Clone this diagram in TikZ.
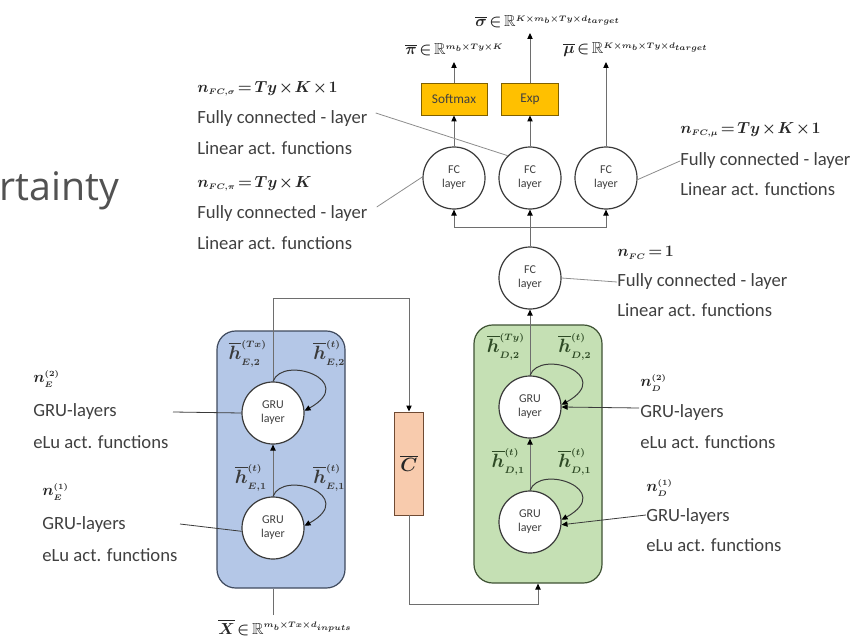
\documentclass[tikz,border=0pt]{standalone}
\usepackage{amsmath,amssymb}
\usepackage{fontspec}
\setmainfont{Carlito}
\newfontfamily\titlefont{Open Sans}
\usetikzlibrary{arrows.meta,calc}
\definecolor{txt}{HTML}{404040}
\definecolor{mtxt}{HTML}{262626}
\definecolor{circb}{HTML}{3A3A3A}
\definecolor{conn}{HTML}{6E6E6E}
\definecolor{lline}{HTML}{8C8C8C}
\definecolor{encfill}{HTML}{B4C7E7}
\definecolor{encdraw}{HTML}{3F4A5E}
\definecolor{decfill}{HTML}{C5E0B4}
\definecolor{decdraw}{HTML}{3E5233}
\definecolor{orfill}{HTML}{FFC000}
\definecolor{ordraw}{HTML}{7F6000}
\definecolor{cfill}{HTML}{F8CBAD}
\definecolor{cdraw}{HTML}{6F4A33}
\definecolor{dectxt}{HTML}{2E4A25}
\newcommand{\tightmath}{\thickmuskip=2.5mu plus 1mu\medmuskip=1.5mu plus 1mu\boldmath}
\begin{document}
\begin{tikzpicture}[x=0.75pt,y=-0.75pt,
  lbl/.style={font=\fontsize{14}{16}\selectfont, text=txt, inner sep=0pt, anchor=west},
  mlbl/.style={font=\fontsize{12.5}{15}\selectfont\tightmath, text=mtxt, inner sep=0pt, anchor=west},
  toplbl/.style={font=\fontsize{12}{14}\selectfont\tightmath, text=mtxt, inner sep=0pt, anchor=base west},
  hlbl/.style={font=\fontsize{14.5}{16}\selectfont\boldmath, text=circb, inner sep=0pt},
  circ/.style={circle, draw=circb, line width=0.9pt, fill=white, minimum size=46.5pt, inner sep=0pt,
    align=center, font=\fontsize{9}{10.5}\selectfont, text=txt},
  orbox/.style={draw=ordraw, fill=orfill, line width=0.7pt, minimum height=24pt, inner sep=0pt,
    font=\fontsize{10}{12}\selectfont, text=txt},
  cont/.style={rounded corners=14pt, line width=0.9pt},
  conn/.style={draw=conn, line width=0.75pt},
  arr/.style={conn, -{Triangle[length=4.5pt,width=4pt,color=black]}},
  lline/.style={draw=lline, line width=0.6pt},
  larr/.style={draw=circb, line width=0.6pt, -{Triangle[length=4.5pt,width=4pt,color=black]}},
  loopl/.style={draw=circb, line width=0.75pt, -{Triangle[length=4.5pt,width=4pt,color=black]}}
]
\useasboundingbox (0,0) rectangle (856,638);

% title fragment
\node[font=\titlefont\fontsize{29.5}{31}\selectfont, text=black!68, anchor=base west, inner sep=0pt] (ttl) at (-1,200) {rtainty};

% containers
\node[cont, draw=encdraw, fill=encfill, minimum width=96pt, minimum height=192.75pt] (enc) at (281,459.5) {};
\node[cont, draw=decdraw, fill=decfill, minimum width=96pt, minimum height=193.5pt] (dec) at (538,454) {};

% context vector
\node[draw=cdraw, fill=cfill, line width=0.7pt, minimum width=21.75pt, minimum height=77.25pt, inner sep=0pt,
  font=\fontsize{14}{16}\selectfont\boldmath, text=mtxt] (C) at (409,463.5) {$\overline{C}$};

% GRU circles
\node[circ] (eu) at (273,413) {GRU\\layer};
\node[circ] (el) at (273,528) {GRU\\layer};
\node[circ] (du) at (530,407) {GRU\\layer};
\node[circ] (dl) at (530,522) {GRU\\layer};

% FC circles
\node[circ] (fc) at (530,278) {FC\\layer};
\node[circ] (fc1) at (454,178) {FC\\layer};
\node[circ] (fc2) at (530,178) {FC\\layer};
\node[circ] (fc3) at (606,178) {FC\\layer};

% output boxes
\node[orbox, minimum width=49.5pt] (sm) at (454,99) {Softmax};
\node[orbox, minimum width=42.75pt] (ex) at (530,99) {Exp};

% output labels
\node[toplbl] (lpi) at (405,55) {$\overline{\pi}\in\mathbb{R}^{\scriptscriptstyle m_b\times Ty\times K}$};
\node[toplbl] (lsig) at (475,27) {$\overline{\sigma}\in\mathbb{R}^{\scriptscriptstyle K\times m_b\times Ty\times d_{target}}$};
\node[toplbl] (lmu) at (563,54) {$\overline{\mu}\in\mathbb{R}^{\scriptscriptstyle K\times m_b\times Ty\times d_{target}}$};
\coordinate (piend) at (454,62);
\coordinate (sigend) at (530,33);
\coordinate (muend) at (606,62);

% input label
\node[toplbl] (lx) at (218,634) {$\overline{X}\in\mathbb{R}^{\scriptscriptstyle m_b\times Tx\times d_{inputs}}$};
\coordinate (xin) at (273,615);

% connectors: top
\draw[arr] (fc1.north) -- (sm.south);
\draw[arr] (fc2.north) -- (ex.south);
\draw[arr] (sm.north) -- (piend);
\draw[arr] (ex.north) -- (sigend);
\draw[arr] (fc3.north) -- (muend);

\coordinate (fcj) at (530,227);
\draw[conn] (fc.north) -- (fcj);
\draw[arr] (fcj) -| (fc1.south);
\draw[arr] (fcj) -- (fc2.south);
\draw[arr] (fcj) -| (fc3.south);

% decoder -> FC
\draw[arr] (du.north) -- (fc.south);
\draw[arr] (dl.north) -- (du.south);

% encoder
\draw[arr] (el.north) -- (eu.south);
\draw[conn] (xin) -- (enc.south -| xin);
\coordinate (ctop) at (409,298);
\draw[arr] (eu.north) |- (ctop) -- (C.north);
\coordinate (cbot) at (409,604);
\draw[arr] (C.south) -- (cbot) -| (dec.south);

% self loops
\foreach \n in {eu,el,du,dl}{
  \draw[loopl] (\n.north) .. controls +(10,-27) and +(54,-30) .. (\n.4);
}

% hidden state labels
\node[hlbl, anchor=east] (h1) at (267,354) {$\overline{h}^{\scriptscriptstyle (Tx)}_{\scriptscriptstyle E,2}$};
\node[hlbl, anchor=west] (h2) at (313,354) {$\overline{h}^{\scriptscriptstyle (t)}_{\scriptscriptstyle E,2}$};
\node[hlbl, anchor=east] (h3) at (267,478) {$\overline{h}^{\scriptscriptstyle (t)}_{\scriptscriptstyle E,1}$};
\node[hlbl, anchor=west] (h4) at (313,478) {$\overline{h}^{\scriptscriptstyle (t)}_{\scriptscriptstyle E,1}$};
\node[hlbl, text=dectxt, anchor=east] (h5) at (525,347) {$\overline{h}^{\scriptscriptstyle (Ty)}_{\scriptscriptstyle D,2}$};
\node[hlbl, text=dectxt, anchor=west] (h6) at (558,347) {$\overline{h}^{\scriptscriptstyle (t)}_{\scriptscriptstyle D,2}$};
\node[hlbl, text=dectxt, anchor=east] (h7) at (525,462) {$\overline{h}^{\scriptscriptstyle (t)}_{\scriptscriptstyle D,1}$};
\node[hlbl, text=dectxt, anchor=west] (h8) at (558,462) {$\overline{h}^{\scriptscriptstyle (t)}_{\scriptscriptstyle D,1}$};

% FC annotations left
\node[mlbl] (a1) at (197,89) {$n_{\scriptscriptstyle FC,\sigma}=Ty\times K\times 1$};
\node[lbl] (a2) at (197,119) {Fully connected - layer};
\node[lbl] (a3) at (197,148) {Linear act. functions};
\node[mlbl] (b1) at (197,184) {$n_{\scriptscriptstyle FC,\pi}=Ty\times K$};
\node[lbl] (b2) at (197,214) {Fully connected - layer};
\node[lbl] (b3) at (197,243) {Linear act. functions};
\draw[lline] ($(a2.east)+(8,-6)$) -- (fc2.135);
\draw[lline] ($(b2.east)+(9,-7)$) -- (fc1.178);

% FC annotations right
\node[mlbl] (c1) at (680,130) {$n_{\scriptscriptstyle FC,\mu}=Ty\times K\times 1$};
\node[lbl] (c2) at (680,161) {Fully connected - layer};
\node[lbl] (c3) at (680,189) {Linear act. functions};
\draw[lline] (c2.west) -- (fc3.-3);
\node[mlbl] (d1) at (617,253) {$n_{\scriptscriptstyle FC}=1$};
\node[lbl] (d2) at (617,282) {Fully connected - layer};
\node[lbl] (d3) at (617,310) {Linear act. functions};
\draw[lline] (d2.west) -- (fc.east);

% encoder annotations
\node[mlbl] (e1) at (33,379) {$n_{\scriptscriptstyle E}^{\scriptscriptstyle (2)}$};
\node[lbl] (e2) at (33,412) {GRU-layers};
\node[lbl] (e3) at (33,442) {eLu act. functions};
\node[mlbl] (f1) at (42,492) {$n_{\scriptscriptstyle E}^{\scriptscriptstyle (1)}$};
\node[lbl] (f2) at (42,525) {GRU-layers};
\node[lbl] (f3) at (42,555) {eLu act. functions};
\coordinate (e2end) at (173,412);
\coordinate (f2end) at (180,524);
\draw[draw=circb, line width=0.6pt] (e2end) -- (eu.west);
\draw[draw=circb, line width=0.6pt] (f2end) -- (el.186);

% decoder annotations
\node[mlbl] (g1) at (640,383) {$n_{\scriptscriptstyle D}^{\scriptscriptstyle (2)}$};
\node[lbl] (g2) at (640,413) {GRU-layers};
\node[lbl] (g3) at (640,442) {eLu act. functions};
\node[mlbl] (k1) at (646,488) {$n_{\scriptscriptstyle D}^{\scriptscriptstyle (1)}$};
\node[lbl] (k2) at (646,517) {GRU-layers};
\node[lbl] (k3) at (646,545) {eLu act. functions};
\draw[larr] ($(g2.west)+(-1,-5)$) -- (du.east);
\draw[larr] ($(k2.west)+(0,-2)$) -- (dl.-5);
\end{tikzpicture}
\end{document}
